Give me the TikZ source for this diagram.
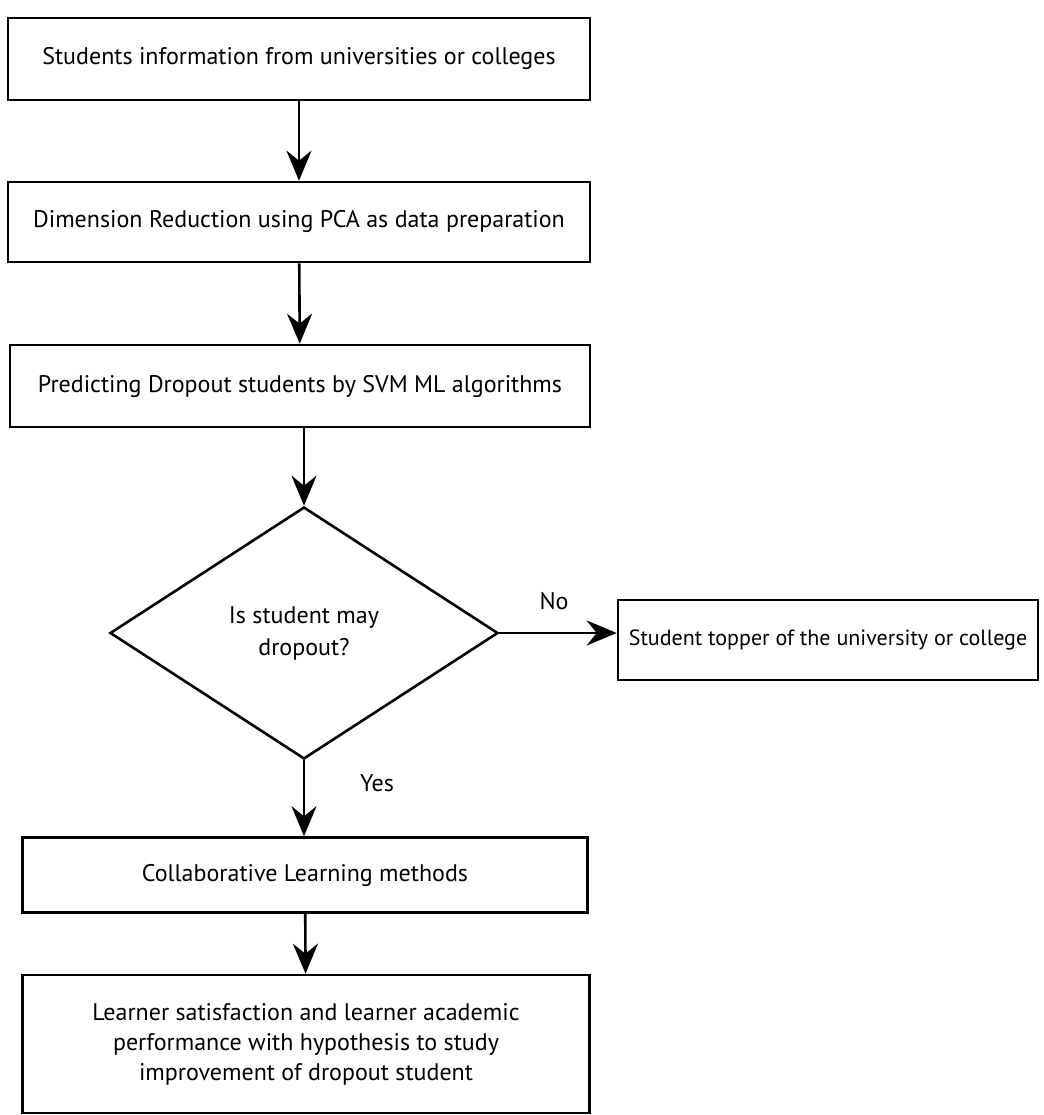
\documentclass[tikz,border=0pt]{standalone}
\usepackage{fontspec}
\setmainfont{PT Sans}
\usetikzlibrary{shapes.geometric,arrows.meta}

\begin{document}
\begin{tikzpicture}[x=1pt, y=-1pt, line width=2.6pt,
  box/.style={rectangle,draw,fill=white,inner sep=4pt,align=center,font=\fontsize{24}{30}\selectfont},
  decision/.style={diamond,draw,fill=white,inner sep=0pt,minimum width=388pt,minimum height=252pt,align=center,font=\fontsize{24}{32}\selectfont},
  flow/.style={-{Stealth[length=30pt,width=25pt,inset=10pt]}},
  tag/.style={font=\fontsize{24}{28}\selectfont}]
\useasboundingbox (0,0) rectangle (1043,1115);

\draw (299,59) node[box,minimum width=582pt,minimum height=82pt](info) {Students information from universities or colleges};
\draw (299,222) node[box,minimum width=582pt,minimum height=80pt](pca) {Dimension Reduction using PCA as data preparation};
\draw (300,386) node[box,minimum width=580pt,minimum height=82pt](svm) {Predicting Dropout students by SVM ML algorithms};
\draw (304,633) node[decision](ask) {Is student may\\dropout?};
\draw (828,640) node[box,minimum width=420pt,minimum height=80pt,inner sep=2pt,font=\fontsize{22}{28}\selectfont](topper) {Student topper of the university or college};
\draw (305,875) node[box,minimum width=565pt,minimum height=75pt](collab) {Collaborative Learning methods};
\draw (306,1044) node[box,minimum width=567pt,minimum height=138pt](learner) {Learner satisfaction and learner academic\\performance with hypothesis to study\\improvement of dropout student};

\draw (554,601) node[tag](no) {No};
\draw (377,783) node[tag](yes) {Yes};

\draw[flow] (info) -- (pca);
\draw[flow] (pca) -- (svm);
\draw[flow] (svm.south -| ask.north) -- (ask.north);
\draw[flow] (ask.east) -- (ask.east -| topper.west);
\draw[flow] (ask.south) -- (ask.south |- collab.north);
\draw[flow] (collab) -- (learner);
\end{tikzpicture}
\end{document}
